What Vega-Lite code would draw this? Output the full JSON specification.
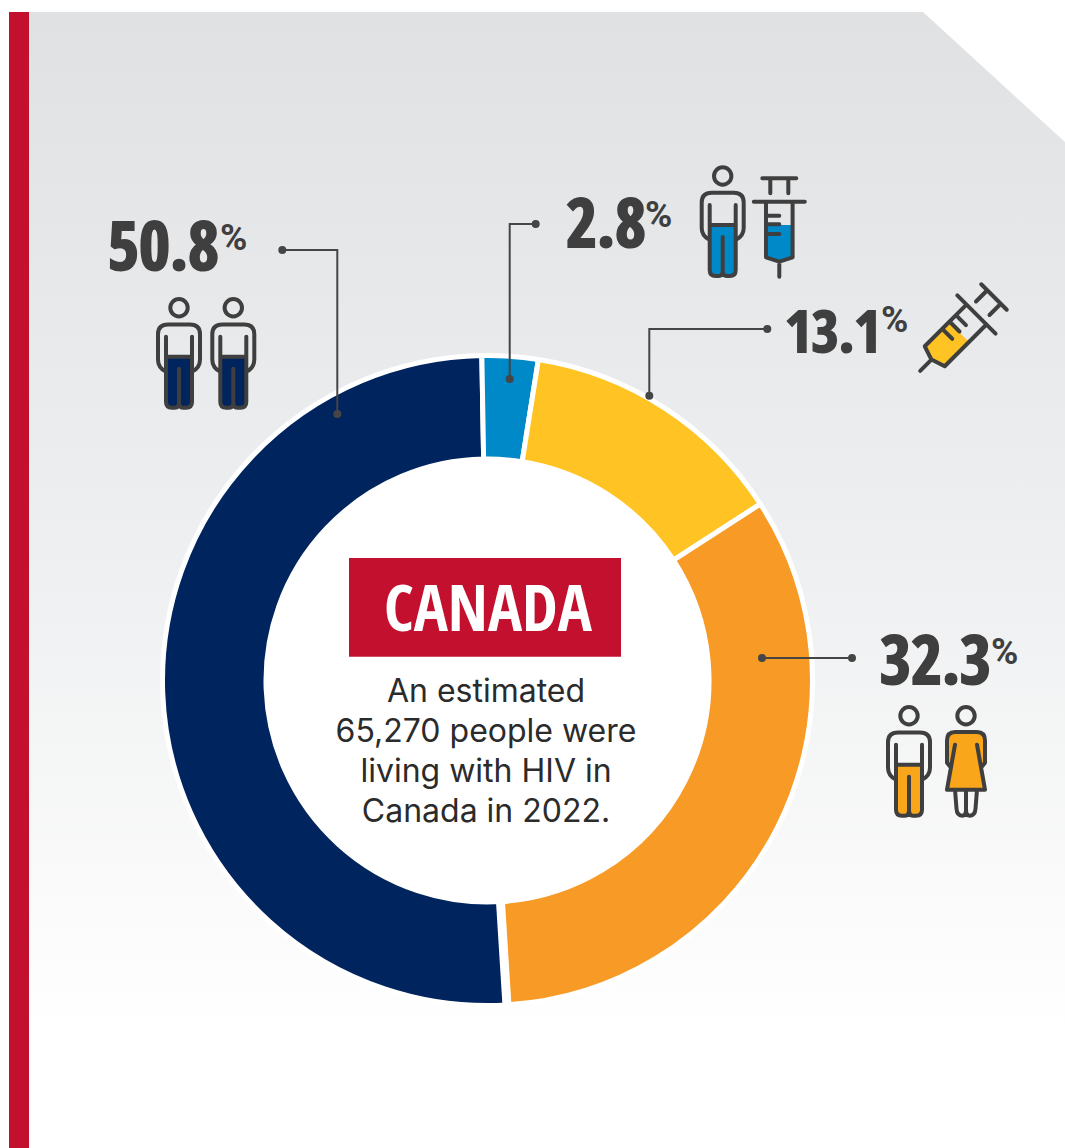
{"$schema":"https://vega.github.io/schema/vega-lite/v6.json","width":1065,"height":1148,"padding":0,"autosize":{"type":"fit","contains":"padding"},"background":"white","view":{"stroke":null},"config":{"axis":{"disable":true},"view":{"stroke":null}},
"datasets":{"shares":[{"group":"Gay men","order":4,"share":50.67,"label":"50.8"},{"group":"Gay men who inject","order":1,"share":2.78,"label":"2.8"},{"group":"People who inject","order":2,"share":13.36,"label":"13.1"},{"group":"Heterosexual","order":3,"share":33.19,"label":"32.3"}],"note":[{"title":"CANADA","body":"An estimated\n65,270 people were\nliving with HIV in\nCanada in 2022."}],"one":[{}]},
"layer":[
{"data":{"name":"one"},"mark":{"type":"rect","color":{"gradient":"linear","x1":0,"y1":0,"x2":0,"y2":1,"stops":[{"offset":0,"color":"#e0e1e3"},{"offset":0.5,"color":"#eff0f1"},{"offset":0.9,"color":"#ffffff"},{"offset":1,"color":"#ffffff"}]}},"encoding":{"x":{"datum":29,"type":"quantitative","scale":{"domain":[0,1065],"nice":false,"zero":false}},"x2":{"datum":1065},"y":{"datum":12,"type":"quantitative","scale":{"domain":[0,1148],"reverse":true,"nice":false,"zero":false}},"y2":{"datum":1148}}},
{"data":{"name":"one"},"mark":{"type":"point","shape":"M0 0H142V130Z","size":4,"filled":true,"color":"#ffffff","opacity":1},"encoding":{"x":{"datum":923,"type":"quantitative"},"y":{"datum":12,"type":"quantitative"}}},
{"data":{"name":"one"},"mark":{"type":"rect","color":"#c3102f"},"encoding":{"x":{"datum":9,"type":"quantitative"},"x2":{"datum":29},"y":{"datum":12,"type":"quantitative"},"y2":{"datum":1148}}},
{"data":{"name":"shares"},"transform":[{"stack":"share","sort":[{"field":"order"}],"groupby":[],"as":["s0","s1"]}],"mark":{"type":"arc","radius":325,"radius2":221.5,"stroke":"#ffffff","strokeWidth":5},"encoding":{"x":{"datum":487.5,"type":"quantitative"},"y":{"datum":680.5,"type":"quantitative"},"theta":{"field":"s0","type":"quantitative","stack":null,"scale":{"domain":[0,100],"range":[-0.01745,6.2657]}},"theta2":{"field":"s1"},"color":{"field":"group","type":"nominal","legend":null,"scale":{"domain":["Gay men","Gay men who inject","People who inject","Heterosexual"],"range":["#00245d","#0089c8","#ffc423","#f79a26"]}}}},
{"data":{"name":"one"},"mark":{"type":"rule","color":"#ffffff","strokeWidth":9},"encoding":{"x":{"datum":500.5,"type":"quantitative"},"y":{"datum":902,"type":"quantitative"},"x2":{"datum":507},"y2":{"datum":1006}}},
{"data":{"name":"one"},"mark":{"type":"point","shape":"circle","size":198000,"filled":true,"color":"#ffffff","opacity":1},"encoding":{"x":{"datum":487.5,"type":"quantitative"},"y":{"datum":680.5,"type":"quantitative"}}},
{"data":{"name":"one"},"mark":{"type":"point","shape":"M3 0A3 3 0 1 1 -3 0A3 3 0 1 1 3 0M1 0A1 1 0 1 1 -1 0A1 1 0 1 1 1 0M0 0H55V164M58 164A3 3 0 1 1 52 164A3 3 0 1 1 58 164M56 164A1 1 0 1 1 54 164A1 1 0 1 1 56 164","size":4,"filled":false,"stroke":"#454545","strokeWidth":2,"opacity":1},"encoding":{"x":{"datum":282.3,"type":"quantitative"},"y":{"datum":250,"type":"quantitative"}}},
{"data":{"name":"one"},"mark":{"type":"point","shape":"M3 0A3 3 0 1 1 -3 0A3 3 0 1 1 3 0M1 0A1 1 0 1 1 -1 0A1 1 0 1 1 1 0M0 0H-26V155M-23 155A3 3 0 1 1 -29 155A3 3 0 1 1 -23 155M-25 155A1 1 0 1 1 -27 155A1 1 0 1 1 -25 155","size":4,"filled":false,"stroke":"#454545","strokeWidth":2,"opacity":1},"encoding":{"x":{"datum":535.7,"type":"quantitative"},"y":{"datum":224,"type":"quantitative"}}},
{"data":{"name":"one"},"mark":{"type":"point","shape":"M3 0A3 3 0 1 1 -3 0A3 3 0 1 1 3 0M1 0A1 1 0 1 1 -1 0A1 1 0 1 1 1 0M0 0H-118V66.7M-115 66.7A3 3 0 1 1 -121 66.7A3 3 0 1 1 -115 66.7M-117 66.7A1 1 0 1 1 -119 66.7A1 1 0 1 1 -117 66.7","size":4,"filled":false,"stroke":"#454545","strokeWidth":2,"opacity":1},"encoding":{"x":{"datum":767.3,"type":"quantitative"},"y":{"datum":329,"type":"quantitative"}}},
{"data":{"name":"one"},"mark":{"type":"point","shape":"M3 0A3 3 0 1 1 -3 0A3 3 0 1 1 3 0M1 0A1 1 0 1 1 -1 0A1 1 0 1 1 1 0M0 0H90M93 0A3 3 0 1 1 87 0A3 3 0 1 1 93 0M91 0A1 1 0 1 1 89 0A1 1 0 1 1 91 0","size":4,"filled":false,"stroke":"#454545","strokeWidth":2,"opacity":1},"encoding":{"x":{"datum":762,"type":"quantitative"},"y":{"datum":658,"type":"quantitative"}}},
{"data":{"name":"one"},"mark":{"type":"rect","color":"#c3102f"},"encoding":{"x":{"datum":349,"type":"quantitative"},"x2":{"datum":621},"y":{"datum":558,"type":"quantitative"},"y2":{"datum":656.7}}},
{"data":{"name":"note"},"mark":{"type":"text","font":"Open Sans Condensed","fontWeight":"bold","fontSize":64,"color":"#ffffff","align":"center","baseline":"alphabetic"},"encoding":{"x":{"datum":488,"type":"quantitative"},"y":{"datum":631,"type":"quantitative"},"text":{"field":"title"}}},
{"data":{"name":"note"},"mark":{"type":"text","font":"Inter","fontSize":32,"lineHeight":40,"lineBreak":"\n","color":"#2b2b2b","align":"center","baseline":"alphabetic"},"encoding":{"x":{"datum":486,"type":"quantitative"},"y":{"datum":701.7,"type":"quantitative"},"text":{"field":"body"}}},
{"data":{"name":"shares"},"transform":[{"filter":"datum.label=='50.8'"}],"mark":{"type":"text","font":"Open Sans Condensed","fontWeight":"bold","fontSize":67,"color":"#3f3f3f","stroke":"#3f3f3f","strokeWidth":2,"align":"left","baseline":"alphabetic"},"encoding":{"x":{"datum":108,"type":"quantitative"},"y":{"datum":270,"type":"quantitative"},"text":{"field":"label"}}},
{"data":{"name":"shares"},"transform":[{"filter":"datum.label=='2.8'"}],"mark":{"type":"text","font":"Open Sans Condensed","fontWeight":"bold","fontSize":67,"color":"#3f3f3f","stroke":"#3f3f3f","strokeWidth":2,"align":"left","baseline":"alphabetic"},"encoding":{"x":{"datum":566,"type":"quantitative"},"y":{"datum":247,"type":"quantitative"},"text":{"field":"label"}}},
{"data":{"name":"shares"},"transform":[{"filter":"datum.label=='13.1'"}],"mark":{"type":"text","font":"Open Sans Condensed","fontWeight":"bold","fontSize":58,"color":"#3f3f3f","stroke":"#3f3f3f","strokeWidth":2,"align":"left","baseline":"alphabetic"},"encoding":{"x":{"datum":785,"type":"quantitative"},"y":{"datum":352,"type":"quantitative"},"text":{"field":"label"}}},
{"data":{"name":"shares"},"transform":[{"filter":"datum.label=='32.3'"}],"mark":{"type":"text","font":"Open Sans Condensed","fontWeight":"bold","fontSize":67,"color":"#3f3f3f","stroke":"#3f3f3f","strokeWidth":2,"align":"left","baseline":"alphabetic"},"encoding":{"x":{"datum":880,"type":"quantitative"},"y":{"datum":684,"type":"quantitative"},"text":{"field":"label"}}},
{"data":{"name":"one"},"mark":{"type":"text","text":"%","font":"Roboto","fontWeight":"bold","fontSize":37,"color":"#3f3f3f","align":"left","baseline":"alphabetic"},"encoding":{"x":{"datum":220,"type":"quantitative"},"y":{"datum":250,"type":"quantitative"}}},
{"data":{"name":"one"},"mark":{"type":"text","text":"%","font":"Roboto","fontWeight":"bold","fontSize":37,"color":"#3f3f3f","align":"left","baseline":"alphabetic"},"encoding":{"x":{"datum":645,"type":"quantitative"},"y":{"datum":227,"type":"quantitative"}}},
{"data":{"name":"one"},"mark":{"type":"text","text":"%","font":"Roboto","fontWeight":"bold","fontSize":37,"color":"#3f3f3f","align":"left","baseline":"alphabetic"},"encoding":{"x":{"datum":881,"type":"quantitative"},"y":{"datum":332,"type":"quantitative"}}},
{"data":{"name":"one"},"mark":{"type":"text","text":"%","font":"Roboto","fontWeight":"bold","fontSize":37,"color":"#3f3f3f","align":"left","baseline":"alphabetic"},"encoding":{"x":{"datum":991,"type":"quantitative"},"y":{"datum":664,"type":"quantitative"}}},
{"data":{"name":"one"},"mark":{"type":"point","shape":"M-13 49H13V94Q13 100 7 100H-7Q-13 100 -13 94Z","size":4,"filled":true,"color":"#0089c8","opacity":1},"encoding":{"x":{"datum":722.7,"type":"quantitative"},"y":{"datum":176,"type":"quantitative"}}},
{"data":{"name":"one"},"mark":{"type":"point","shape":"M-13 49H13V94Q13 100 7 100H-7Q-13 100 -13 94Z","size":4,"filled":true,"color":"#00245d","opacity":1},"encoding":{"x":{"datum":179,"type":"quantitative"},"y":{"datum":307.7,"type":"quantitative"}}},
{"data":{"name":"one"},"mark":{"type":"point","shape":"M-13 49H13V94Q13 100 7 100H-7Q-13 100 -13 94Z","size":4,"filled":true,"color":"#00245d","opacity":1},"encoding":{"x":{"datum":233.3,"type":"quantitative"},"y":{"datum":307.7,"type":"quantitative"}}},
{"data":{"name":"one"},"mark":{"type":"point","shape":"M-13 49H13V94Q13 100 7 100H-7Q-13 100 -13 94Z","size":4,"filled":true,"color":"#f9a61a","opacity":1},"encoding":{"x":{"datum":909,"type":"quantitative"},"y":{"datum":715.7,"type":"quantitative"}}},
{"data":{"name":"one"},"mark":{"type":"point","shape":"M-11 16.3H11Q19 16.3 19 25V47L15 52L19 74H-19L-15 52L-19 47V25Q-19 16.3 -11 16.3Z","size":4,"filled":true,"color":"#f9a61a","opacity":1},"encoding":{"x":{"datum":966,"type":"quantitative"},"y":{"datum":715.7,"type":"quantitative"}}},
{"data":{"name":"one"},"mark":{"type":"point","shape":"M8.7 0A8.7 8.7 0 1 1 -8.7 0A8.7 8.7 0 1 1 8.7 0ZM-13 29V94Q-13 100 -7 100H-4Q0 100 0 94V61M0 94Q0 100 4 100H7Q13 100 13 94V29M-13 64Q-21 60 -21 52V26.5Q-21 16.7 -11 16.7H11Q21 16.7 21 26.5V52Q21 60 13 64M-13 49H13","size":4,"filled":false,"stroke":"#3f3f3f","strokeWidth":4,"strokeCap":"round","strokeJoin":"round","opacity":1},"encoding":{"x":{"datum":722.7,"type":"quantitative"},"y":{"datum":176,"type":"quantitative"}}},
{"data":{"name":"one"},"mark":{"type":"point","shape":"M8.7 0A8.7 8.7 0 1 1 -8.7 0A8.7 8.7 0 1 1 8.7 0ZM-13 29V94Q-13 100 -7 100H-4Q0 100 0 94V61M0 94Q0 100 4 100H7Q13 100 13 94V29M-13 64Q-21 60 -21 52V26.5Q-21 16.7 -11 16.7H11Q21 16.7 21 26.5V52Q21 60 13 64M-13 49H13","size":4,"filled":false,"stroke":"#3f3f3f","strokeWidth":4,"strokeCap":"round","strokeJoin":"round","opacity":1},"encoding":{"x":{"datum":179,"type":"quantitative"},"y":{"datum":307.7,"type":"quantitative"}}},
{"data":{"name":"one"},"mark":{"type":"point","shape":"M8.7 0A8.7 8.7 0 1 1 -8.7 0A8.7 8.7 0 1 1 8.7 0ZM-13 29V94Q-13 100 -7 100H-4Q0 100 0 94V61M0 94Q0 100 4 100H7Q13 100 13 94V29M-13 64Q-21 60 -21 52V26.5Q-21 16.7 -11 16.7H11Q21 16.7 21 26.5V52Q21 60 13 64M-13 49H13","size":4,"filled":false,"stroke":"#3f3f3f","strokeWidth":4,"strokeCap":"round","strokeJoin":"round","opacity":1},"encoding":{"x":{"datum":233.3,"type":"quantitative"},"y":{"datum":307.7,"type":"quantitative"}}},
{"data":{"name":"one"},"mark":{"type":"point","shape":"M8.7 0A8.7 8.7 0 1 1 -8.7 0A8.7 8.7 0 1 1 8.7 0ZM-13 29V94Q-13 100 -7 100H-4Q0 100 0 94V61M0 94Q0 100 4 100H7Q13 100 13 94V29M-13 64Q-21 60 -21 52V26.5Q-21 16.7 -11 16.7H11Q21 16.7 21 26.5V52Q21 60 13 64M-13 49H13","size":4,"filled":false,"stroke":"#3f3f3f","strokeWidth":4,"strokeCap":"round","strokeJoin":"round","opacity":1},"encoding":{"x":{"datum":909,"type":"quantitative"},"y":{"datum":715.7,"type":"quantitative"}}},
{"data":{"name":"one"},"mark":{"type":"point","shape":"M8.7 0A8.7 8.7 0 1 1 -8.7 0A8.7 8.7 0 1 1 8.7 0ZM-11 16.3H11Q19 16.3 19 25V47L15 52M-11 16.3Q-19 16.3 -19 25V47L-15 52M-11 29L-19 74H19L11 29M-11 74L-9.5 93Q-9 100 -4 100Q0 100 0 94V74M0 94Q0 100 4 100Q9 100 9.5 93L11 74","size":4,"filled":false,"stroke":"#3f3f3f","strokeWidth":4,"strokeCap":"round","strokeJoin":"round","opacity":1},"encoding":{"x":{"datum":966,"type":"quantitative"},"y":{"datum":715.7,"type":"quantitative"}}},
{"data":{"name":"one"},"mark":{"type":"point","shape":"M-13.3 46.7H13.3V79L0 83.4L-13.3 79Z","size":4,"filled":true,"color":"#0089c8","opacity":1},"encoding":{"x":{"datum":779.3,"type":"quantitative"},"y":{"datum":178.3,"type":"quantitative"}}},
{"data":{"name":"one"},"mark":{"type":"point","shape":"M-17 0H17M-9 0V15M9 0V15M-25.5 23.4H25.5M-13.3 23.4V79L0 83.4L13.3 79V23.4M0 83.4V98.4M-13.3 37.4H0M-13.3 46H0M-13.3 55.7H0","size":4,"filled":false,"stroke":"#3f3f3f","strokeWidth":4,"strokeCap":"round","strokeJoin":"round","opacity":1},"encoding":{"x":{"datum":779.3,"type":"quantitative"},"y":{"datum":178.3,"type":"quantitative"}}},
{"data":{"name":"one"},"mark":{"type":"point","shape":"M-13.3 46.7H13.3V79L0 83.4L-13.3 79Z","size":4.5,"angle":45,"filled":true,"color":"#ffc423","opacity":1},"encoding":{"x":{"datum":994,"type":"quantitative"},"y":{"datum":297,"type":"quantitative"}}},
{"data":{"name":"one"},"mark":{"type":"point","shape":"M-17 0H17M-9 0V15M9 0V15M-25.5 23.4H25.5M-13.3 23.4V79L0 83.4L13.3 79V23.4M0 83.4V98.4M-13.3 37.4H0M-13.3 46H0M-13.3 55.7H0","size":4.5,"angle":45,"filled":false,"stroke":"#3f3f3f","strokeWidth":4,"strokeCap":"round","strokeJoin":"round","opacity":1},"encoding":{"x":{"datum":994,"type":"quantitative"},"y":{"datum":297,"type":"quantitative"}}}
]}
